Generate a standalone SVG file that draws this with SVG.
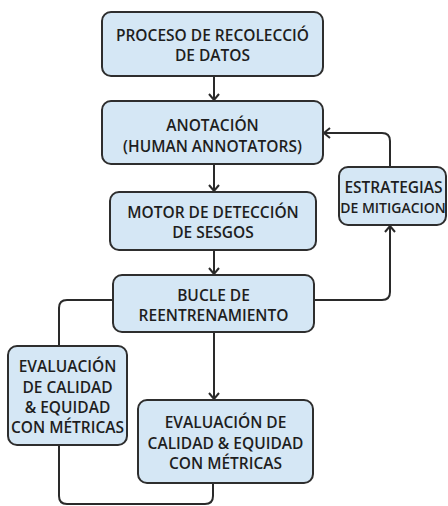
<svg xmlns="http://www.w3.org/2000/svg" width="448" height="506" viewBox="0 0 448 506">
<defs>
<style>
.box{fill:#d5e7f5;stroke:#2e2e2e;stroke-width:2}
.t{font-family:"Open Sans","Noto Sans","DejaVu Sans",sans-serif;font-weight:600;font-size:15.5px;fill:#1e1e1e;text-anchor:middle}
.s{font-size:14px}
.c{fill:none;stroke:#2a2a2a;stroke-width:2}
</style>
<marker id="ah" viewBox="0 0 12 12" refX="11" refY="6" markerWidth="12" markerHeight="12" markerUnits="userSpaceOnUse" orient="auto">
<path d="M5,1 L11,6 L5,11" fill="none" stroke="#2a2a2a" stroke-width="2"/>
</marker>
</defs>
<rect width="448" height="506" fill="#ffffff"/>
<g id="connectors">
<path class="c" d="M214,76 V100" marker-end="url(#ah)"/>
<path class="c" d="M214,164 V191" marker-end="url(#ah)"/>
<path class="c" d="M214,250 V274" marker-end="url(#ah)"/>
<path class="c" d="M214,332 V399" marker-end="url(#ah)"/>
<path class="c" d="M314,300 H382 Q390,300 390,292 V226" marker-end="url(#ah)"/>
<path class="c" d="M390,167 V141 Q390,133 382,133 H324" marker-end="url(#ah)"/>
<path class="c" d="M113,300 H67 Q59,300 59,308 V346"/>
<path class="c" d="M59,445 V496 Q59,504 67,504 H205 Q213,504 213,496 V483"/>
</g>
<g id="n1">
<rect class="box" x="102" y="12" width="221" height="64" rx="9"/>
<text class="t" x="212.5" y="41">PROCESO DE RECOLECCIÓ</text>
<text class="t" x="212.5" y="61">DE DATOS</text>
</g>
<g id="n2">
<rect class="box" x="102" y="101" width="221" height="63" rx="9"/>
<text class="t" x="212.5" y="131">ANOTACIÓN</text>
<text class="t" x="212.5" y="152">(HUMAN ANNOTATORS)</text>
</g>
<g id="n3">
<rect class="box" x="110" y="192" width="206" height="58" rx="9"/>
<text class="t" x="213" y="218">MOTOR DE DETECCIÓN</text>
<text class="t" x="213" y="238">DE SESGOS</text>
</g>
<g id="n4">
<rect class="box" x="113" y="275" width="201" height="57" rx="9"/>
<text class="t" x="213.5" y="301">BUCLE DE</text>
<text class="t" x="213.5" y="321">REENTRENAMIENTO</text>
</g>
<g id="n5">
<rect class="box" x="339" y="167" width="107" height="58" rx="9"/>
<text class="t" x="393.5" y="193">ESTRATEGIAS</text>
<text class="t s" x="393" y="213">DE MITIGACION</text>
</g>
<g id="n6">
<rect class="box" x="8" y="346" width="119" height="99" rx="9"/>
<text class="t" x="67.5" y="372">EVALUACIÓN</text>
<text class="t" x="67.5" y="393">DE CALIDAD</text>
<text class="t" x="67.5" y="413">&amp; EQUIDAD</text>
<text class="t" x="67.5" y="433">CON MÉTRICAS</text>
</g>
<g id="n7">
<rect class="box" x="138" y="400" width="175" height="83" rx="9"/>
<text class="t" x="225.5" y="428">EVALUACIÓN DE</text>
<text class="t" x="225.5" y="449">CALIDAD &amp; EQUIDAD</text>
<text class="t" x="225.5" y="469">CON MÉTRICAS</text>
</g>
</svg>
